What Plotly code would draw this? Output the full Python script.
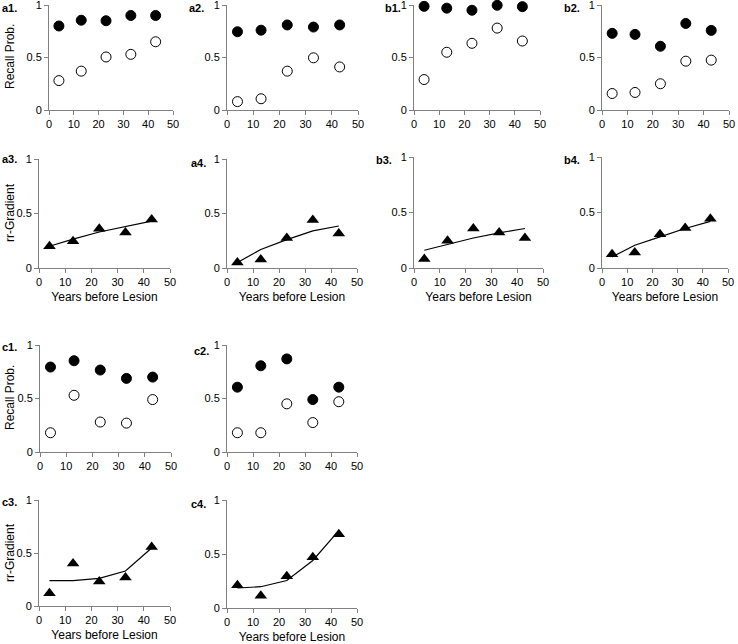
import plotly.graph_objects as go

W, H = 738, 644

years = [4, 13, 23, 33, 43]
x_ticks = [0, 10, 20, 30, 40, 50]
y_ticks = [0, 0.5, 1]
y_tick_labels = ["0", "0.5", "1"]

# Recall probability panels (filled and open circles)
a1_filled = [0.80, 0.855, 0.85, 0.90, 0.90]
a1_open = [0.28, 0.37, 0.505, 0.53, 0.65]
a2_filled = [0.745, 0.76, 0.81, 0.79, 0.81]
a2_open = [0.08, 0.107, 0.37, 0.497, 0.41]
b1_filled = [0.987, 0.97, 0.95, 0.997, 0.984]
b1_open = [0.29, 0.55, 0.635, 0.78, 0.657]
b2_filled = [0.73, 0.72, 0.607, 0.824, 0.758]
b2_open = [0.157, 0.167, 0.25, 0.465, 0.475]
c1_filled = [0.794, 0.853, 0.766, 0.688, 0.70]
c1_open = [0.18, 0.53, 0.28, 0.27, 0.49]
c2_filled = [0.606, 0.806, 0.87, 0.49, 0.606]
c2_open = [0.18, 0.18, 0.45, 0.275, 0.47]

# rr-Gradient panels (triangles = data, line = fit)
a3_points = [0.20, 0.245, 0.36, 0.325, 0.445]
a3_fit = [0.20, 0.265, 0.33, 0.38, 0.43]
a4_points = [0.05, 0.077, 0.276, 0.44, 0.316]
a4_fit = [0.05, 0.17, 0.26, 0.34, 0.385]
b3_points = [0.08, 0.245, 0.356, 0.32, 0.27]
b3_fit = [0.16, 0.21, 0.27, 0.317, 0.356]
b4_points = [0.124, 0.14, 0.305, 0.36, 0.444]
b4_fit = [0.10, 0.205, 0.28, 0.356, 0.42]
c3_points = [0.12, 0.40, 0.23, 0.27, 0.556]
c3_fit = [0.24, 0.24, 0.26, 0.33, 0.547]
c4_points = [0.21, 0.114, 0.295, 0.47, 0.683]
c4_fit = [0.185, 0.197, 0.255, 0.44, 0.717]

recall_panels = [
    ("a1.", a1_filled, a1_open),
    ("a2.", a2_filled, a2_open),
    ("b1.", b1_filled, b1_open),
    ("b2.", b2_filled, b2_open),
    ("c1.", c1_filled, c1_open),
    ("c2.", c2_filled, c2_open),
]
gradient_panels = [
    ("a3.", a3_points, a3_fit),
    ("a4.", a4_points, a4_fit),
    ("b3.", b3_points, b3_fit),
    ("b4.", b4_points, b4_fit),
    ("c3.", c3_points, c3_fit),
    ("c4.", c4_points, c4_fit),
]

# pixel geometry: (x at 0, x at 50, y at 1, y at 0), label position (left x, center y)
geom = {
    "a1.": ((49, 173, 5, 110), (0, 8)),
    "a2.": ((227, 358, 5, 110), (187, 8)),
    "b1.": ((414, 540, 5, 110), (383, 8)),
    "b2.": ((602, 729, 5, 110), (562, 8)),
    "c1.": ((40, 171, 345, 452), (0, 347)),
    "c2.": ((227, 357, 345, 452), (192, 351)),
    "a3.": ((39, 170, 159, 268), (0, 159)),
    "a4.": ((227, 357, 159, 268), (189, 163)),
    "b3.": ((414, 543, 157, 268), (374, 160)),
    "b4.": ((602, 728, 157, 268), (562, 160)),
    "c3.": ((39, 170, 500, 606), (0, 502)),
    "c4.": ((227, 357, 500, 608), (189, 504)),
}

FONT = "Liberation Sans, Arial, sans-serif"
AXIS_COLOR = "#808080"

fig = go.Figure()
layout = {}
annotations = []


def add_axes(i, name, xtitle):
    (x0, x1, y1, y0), (lx, ly) = geom[name]
    xa = "xaxis" if i == 1 else f"xaxis{i}"
    ya = "yaxis" if i == 1 else f"yaxis{i}"
    layout[xa] = dict(
        domain=[x0 / W, x1 / W], range=[0, 50], anchor=f"y{i}" if i > 1 else "y",
        showline=True, linecolor=AXIS_COLOR, linewidth=1, automargin=False,
        ticks="outside", ticklen=4, tickcolor=AXIS_COLOR, tickwidth=1,
        tickvals=x_ticks, showgrid=False, zeroline=False, ticklabeloverflow="allow",
        tickfont=dict(family=FONT, size=11, color="black"),
        title=dict(text=xtitle, font=dict(family=FONT, size=12, color="black"), standoff=5) if xtitle else None,
    )
    layout[ya] = dict(
        domain=[1 - y0 / H, 1 - y1 / H], range=[0, 1], anchor=f"x{i}" if i > 1 else "x",
        showline=True, linecolor=AXIS_COLOR, linewidth=1, automargin=False,
        ticks="outside", ticklen=4, tickcolor=AXIS_COLOR, tickwidth=1,
        tickvals=y_ticks, ticktext=y_tick_labels, showgrid=False, zeroline=False,
        ticklabeloverflow="allow",
        tickfont=dict(family=FONT, size=11, color="black"),
    )
    annotations.append(dict(
        text=f"<b>{name}</b>", x=lx / W, y=1 - ly / H, xref="paper", yref="paper",
        xanchor="left", yanchor="middle", showarrow=False,
        font=dict(family=FONT, size=11, color="black"),
    ))


idx = 0
for name, filled, opened in recall_panels:
    idx += 1
    xr = "x" if idx == 1 else f"x{idx}"
    yr = "y" if idx == 1 else f"y{idx}"
    fig.add_trace(go.Scatter(x=years, y=opened, xaxis=xr, yaxis=yr, mode="markers",
                             marker=dict(symbol="circle", size=10, color="white",
                                         line=dict(color="black", width=1)),
                             cliponaxis=False, showlegend=False))
    fig.add_trace(go.Scatter(x=years, y=filled, xaxis=xr, yaxis=yr, mode="markers",
                             marker=dict(symbol="circle", size=10, color="black",
                                         line=dict(color="black", width=1)),
                             cliponaxis=False, showlegend=False))
    add_axes(idx, name, None)

for name, pts, fit in gradient_panels:
    idx += 1
    xr = f"x{idx}"
    yr = f"y{idx}"
    fig.add_trace(go.Scatter(x=years, y=fit, xaxis=xr, yaxis=yr, mode="lines",
                             line=dict(color="black", width=1.2),
                             cliponaxis=False, showlegend=False))
    fig.add_trace(go.Scatter(x=years, y=pts, xaxis=xr, yaxis=yr, mode="markers",
                             marker=dict(symbol="triangle-up", size=11, color="black"),
                             cliponaxis=False, showlegend=False))
    add_axes(idx, name, "Years before Lesion")

# y axis titles
for text, cy in [("Recall Prob.", 57), ("rr-Gradient", 213), ("Recall Prob.", 398), ("rr-Gradient", 553)]:
    annotations.append(dict(
        text=text, x=10 / W, y=1 - cy / H, xref="paper", yref="paper",
        xanchor="center", yanchor="middle", textangle=-90, showarrow=False,
        font=dict(family=FONT, size=12, color="black"),
    ))

fig.update_layout(
    width=W, height=H, margin=dict(l=0, r=0, t=0, b=0, autoexpand=False),
    template="none",
    paper_bgcolor="white", plot_bgcolor="white",
    annotations=annotations, showlegend=False, **layout,
)

fig.write_html(
    "out.html",
    config={"displayModeBar": False},
    post_script="document.body.style.margin='0';document.body.style.padding='0';",
)
